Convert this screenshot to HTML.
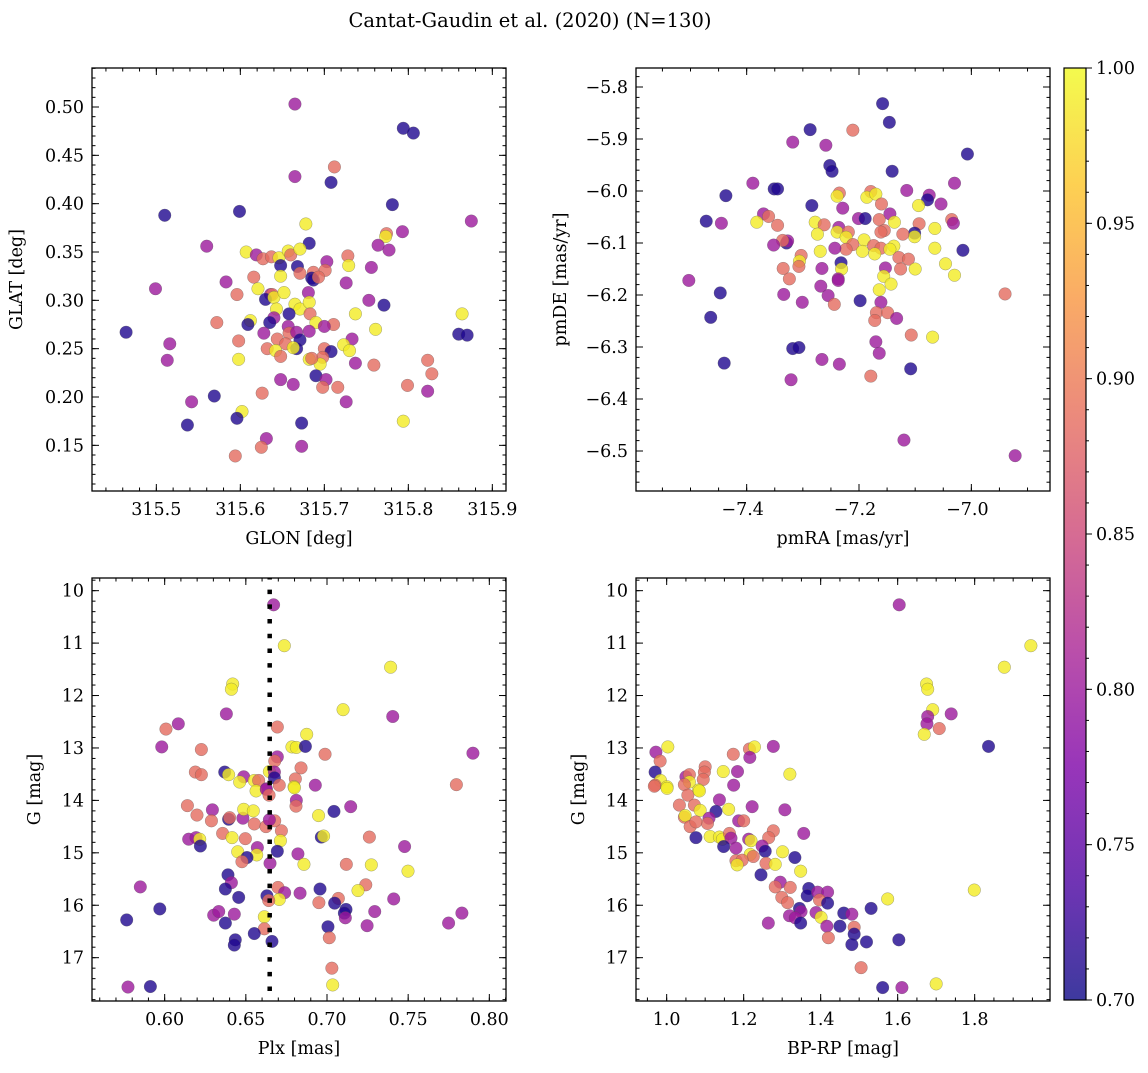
<!DOCTYPE html>
<html><head><meta charset="utf-8"><style>
html,body{margin:0;padding:0;background:#fff;}
svg text{font-family:"DejaVu Serif","Liberation Serif",serif;fill:#000;}
</style></head><body>
<svg id="fig" width="1148" height="1068" viewBox="0 0 1148 1068" xmlns="http://www.w3.org/2000/svg">
<text x="530" y="27" font-size="19.5" text-anchor="middle">Cantat-Gaudin et al. (2020) (N=130)</text>
</svg>
<script>
// ---------- Panel 1: GLON / GLAT ----------
const p1x=[315.665,315.794,315.806,315.712,315.665,315.708,315.781,315.510,315.599,315.875,315.678,315.793,315.774,315.773,315.764,315.777,315.560,315.682,315.607,315.619,315.627,315.637,315.646,315.657,315.660,315.671,315.648,315.668,315.671,315.687,315.703,315.701,315.728,315.729,315.756,315.685,315.499,315.583,315.616,315.648,315.687,315.693,315.726,315.596,315.621,315.636,315.638,315.630,315.640,315.652,315.681,315.665,315.671,315.682,315.658,315.643,315.640,315.683,315.771,315.753,315.737,315.864,315.572,315.612,315.609,315.635,315.690,315.711,315.700,315.464,315.860,315.870,315.516,315.513,315.598,315.598,315.628,315.657,315.658,315.667,315.682,315.671,315.644,315.654,315.667,315.663,315.632,315.642,315.648,315.700,315.708,315.698,315.682,315.695,315.685,315.733,315.723,315.730,315.737,315.759,315.761,315.823,315.828,315.799,315.823,315.690,315.702,315.698,315.716,315.648,315.663,315.726,315.626,315.569,315.542,315.537,315.602,315.596,315.673,315.794,315.631,315.625,315.673,315.594];
const p1y=[0.503,0.478,0.473,0.438,0.428,0.422,0.399,0.388,0.392,0.382,0.379,0.371,0.369,0.366,0.357,0.352,0.356,0.359,0.350,0.347,0.343,0.345,0.344,0.351,0.347,0.353,0.336,0.335,0.328,0.329,0.340,0.331,0.346,0.336,0.334,0.323,0.312,0.319,0.324,0.325,0.321,0.324,0.318,0.306,0.312,0.306,0.306,0.301,0.303,0.308,0.308,0.296,0.291,0.298,0.286,0.291,0.282,0.286,0.295,0.300,0.286,0.286,0.277,0.279,0.275,0.277,0.277,0.275,0.273,0.267,0.265,0.264,0.255,0.238,0.258,0.239,0.266,0.273,0.266,0.267,0.268,0.259,0.260,0.255,0.250,0.251,0.250,0.248,0.242,0.250,0.247,0.241,0.239,0.234,0.240,0.260,0.254,0.248,0.235,0.233,0.270,0.238,0.224,0.212,0.206,0.222,0.218,0.210,0.210,0.218,0.213,0.195,0.204,0.201,0.195,0.171,0.185,0.178,0.173,0.175,0.157,0.148,0.149,0.139];
const p1c=[0.80,0.71,0.71,0.885,0.80,0.71,0.71,0.71,0.71,0.80,0.99,0.80,0.885,0.99,0.80,0.80,0.80,0.71,0.99,0.80,0.885,0.885,0.99,0.99,0.885,0.99,0.71,0.71,0.885,0.885,0.80,0.885,0.885,0.99,0.80,0.71,0.80,0.80,0.885,0.99,0.71,0.885,0.80,0.885,0.99,0.80,0.885,0.71,0.99,0.99,0.80,0.99,0.99,0.99,0.71,0.99,0.80,0.885,0.71,0.80,0.99,0.99,0.885,0.99,0.71,0.71,0.99,0.885,0.80,0.71,0.71,0.71,0.80,0.80,0.885,0.99,0.80,0.80,0.885,0.80,0.80,0.71,0.885,0.885,0.71,0.99,0.885,0.99,0.885,0.885,0.71,0.885,0.99,0.99,0.885,0.80,0.99,0.99,0.80,0.885,0.99,0.885,0.885,0.885,0.80,0.71,0.80,0.885,0.885,0.80,0.80,0.80,0.885,0.71,0.80,0.71,0.99,0.71,0.71,0.99,0.80,0.885,0.80,0.885];
const p1xt=[315.5,315.6,315.7,315.8,315.9];
const p1yt=[0.15,0.20,0.25,0.30,0.35,0.40,0.45,0.50];

// ---------- Panel 2: pmRA / pmDE ----------
const p2x=[-7.158,-7.146,-7.211,-7.287,-7.318,-7.259,-7.007,-7.252,-7.248,-7.141,-7.389,-7.351,-7.345,-7.437,-7.030,-7.115,-7.235,-7.239,-7.179,-7.186,-7.170,-7.160,-7.075,-7.078,-7.054,-7.094,-7.284,-7.229,-7.370,-7.361,-7.472,-7.445,-7.382,-7.345,-7.201,-7.189,-7.145,-7.164,-7.137,-7.278,-7.262,-7.274,-7.093,-7.035,-7.032,-7.065,-7.155,-7.161,-7.236,-7.239,-7.219,-7.223,-7.101,-7.101,-7.122,-7.329,-7.327,-7.336,-7.352,-7.191,-7.211,-7.223,-7.243,-7.194,-7.174,-7.161,-7.172,-7.138,-7.145,-7.065,-7.015,-7.269,-7.303,-7.306,-7.307,-7.335,-7.324,-7.503,-7.232,-7.231,-7.266,-7.237,-7.129,-7.112,-7.126,-7.100,-7.153,-7.156,-7.046,-7.030,-7.268,-7.237,-7.447,-7.334,-7.255,-7.301,-7.244,-7.198,-7.143,-7.164,-7.161,-7.169,-7.149,-7.172,-7.133,-7.464,-7.107,-7.069,-7.170,-7.164,-7.318,-7.307,-7.440,-7.266,-7.235,-7.179,-7.108,-7.321,-6.940,-7.120,-6.922];
const p2y=[-5.832,-5.868,-5.883,-5.882,-5.906,-5.912,-5.929,-5.951,-5.962,-5.962,-5.985,-5.996,-5.996,-6.009,-5.985,-5.999,-6.004,-6.010,-6.001,-6.012,-6.006,-6.025,-6.008,-6.017,-6.025,-6.028,-6.028,-6.033,-6.044,-6.049,-6.058,-6.062,-6.060,-6.066,-6.053,-6.053,-6.044,-6.055,-6.060,-6.060,-6.065,-6.083,-6.063,-6.055,-6.062,-6.072,-6.076,-6.079,-6.070,-6.079,-6.079,-6.089,-6.081,-6.088,-6.083,-6.100,-6.096,-6.095,-6.104,-6.094,-6.103,-6.112,-6.110,-6.116,-6.105,-6.110,-6.121,-6.106,-6.112,-6.110,-6.114,-6.116,-6.124,-6.135,-6.145,-6.149,-6.169,-6.172,-6.138,-6.150,-6.149,-6.169,-6.128,-6.131,-6.150,-6.150,-6.148,-6.164,-6.140,-6.162,-6.183,-6.172,-6.196,-6.199,-6.201,-6.214,-6.218,-6.211,-6.179,-6.190,-6.214,-6.234,-6.234,-6.249,-6.245,-6.243,-6.277,-6.281,-6.290,-6.312,-6.303,-6.301,-6.331,-6.324,-6.333,-6.356,-6.342,-6.363,-6.198,-6.479,-6.509];
const p2c=[0.71,0.71,0.885,0.71,0.80,0.80,0.71,0.71,0.71,0.71,0.80,0.71,0.71,0.71,0.80,0.80,0.885,0.99,0.885,0.99,0.99,0.885,0.80,0.71,0.80,0.99,0.71,0.80,0.80,0.885,0.71,0.80,0.99,0.885,0.80,0.71,0.80,0.885,0.99,0.99,0.885,0.99,0.885,0.885,0.80,0.99,0.885,0.885,0.80,0.99,0.885,0.99,0.71,0.99,0.885,0.71,0.80,0.885,0.80,0.99,0.885,0.885,0.80,0.99,0.885,0.885,0.99,0.99,0.99,0.99,0.71,0.99,0.885,0.99,0.885,0.885,0.885,0.80,0.71,0.99,0.80,0.80,0.885,0.885,0.885,0.99,0.80,0.99,0.99,0.99,0.80,0.80,0.71,0.80,0.80,0.80,0.885,0.71,0.99,0.99,0.80,0.885,0.885,0.885,0.80,0.71,0.885,0.99,0.80,0.80,0.71,0.71,0.71,0.80,0.80,0.885,0.71,0.80,0.885,0.80,0.80];
const p2xt=[-7.4,-7.2,-7.0];
const p2yt=[-5.8,-5.9,-6.0,-6.1,-6.2,-6.3,-6.4,-6.5];

// ---------- Panel 3: Plx / G ----------
const p3x=[0.6671,0.6737,0.7392,0.6419,0.6411,0.7099,0.6380,0.7405,0.6084,0.6008,0.6694,0.6875,0.6784,0.6811,0.6867,0.5982,0.6226,0.6988,0.7899,0.6694,0.6678,0.6840,0.6189,0.6226,0.6370,0.6394,0.6487,0.6462,0.6552,0.6579,0.6645,0.6676,0.6676,0.6805,0.6706,0.6797,0.6928,0.6626,0.7797,0.6563,0.6626,0.6643,0.6799,0.6140,0.6294,0.6199,0.6288,0.6394,0.6400,0.6482,0.6487,0.6546,0.6552,0.6624,0.6678,0.6645,0.6811,0.6809,0.6948,0.7043,0.7146,0.6719,0.6713,0.6357,0.6148,0.6193,0.6216,0.6220,0.6415,0.6497,0.6571,0.6450,0.6567,0.6507,0.6476,0.6694,0.6821,0.6965,0.6979,0.7261,0.7478,0.6858,0.6649,0.7119,0.7273,0.7499,0.6390,0.6411,0.6374,0.5850,0.6456,0.6630,0.6698,0.6739,0.6706,0.6641,0.6834,0.6957,0.7239,0.7191,0.6950,0.7070,0.7047,0.7117,0.7107,0.7113,0.7411,0.7294,0.7247,0.5970,0.5766,0.6302,0.6333,0.6429,0.6374,0.6614,0.6614,0.6552,0.6435,0.6429,0.6661,0.7006,0.7014,0.7749,0.7831,0.7030,0.7035,0.5774,0.5912];
const p3y=[10.27,11.05,11.46,11.78,11.88,12.27,12.35,12.40,12.54,12.64,12.60,12.74,12.98,12.99,12.97,12.98,13.03,13.12,13.10,13.17,13.25,13.38,13.46,13.51,13.46,13.51,13.55,13.65,13.62,13.62,13.45,13.46,13.57,13.59,13.71,13.74,13.71,13.78,13.70,13.82,13.79,13.90,13.76,14.10,14.18,14.28,14.39,14.36,14.33,14.34,14.17,14.20,14.45,14.50,14.39,14.37,14.00,14.11,14.29,14.21,14.12,14.58,14.77,14.63,14.74,14.71,14.74,14.87,14.71,14.73,14.90,14.98,15.04,15.09,15.17,14.97,15.02,14.70,14.68,14.70,14.88,15.22,15.20,15.22,15.23,15.35,15.42,15.57,15.69,15.65,15.85,15.82,15.66,15.76,15.89,15.91,15.77,15.69,15.61,15.72,15.95,15.87,15.96,16.08,16.15,16.24,15.88,16.12,16.39,16.07,16.28,16.19,16.12,16.17,16.34,16.22,16.45,16.54,16.66,16.76,16.69,16.41,16.62,16.34,16.15,17.20,17.52,17.56,17.55];
const p3c=[0.80,0.99,0.99,0.99,0.99,0.99,0.80,0.80,0.80,0.885,0.885,0.99,0.99,0.99,0.71,0.80,0.885,0.885,0.80,0.80,0.885,0.885,0.885,0.885,0.71,0.99,0.80,0.99,0.99,0.885,0.99,0.80,0.71,0.885,0.885,0.99,0.80,0.80,0.885,0.99,0.80,0.885,0.99,0.885,0.80,0.885,0.885,0.71,0.885,0.80,0.99,0.99,0.885,0.885,0.885,0.80,0.80,0.885,0.99,0.71,0.80,0.885,0.99,0.885,0.80,0.80,0.99,0.71,0.99,0.885,0.80,0.99,0.99,0.71,0.885,0.71,0.80,0.71,0.99,0.885,0.80,0.99,0.80,0.885,0.99,0.99,0.71,0.80,0.71,0.80,0.71,0.71,0.885,0.80,0.99,0.885,0.80,0.71,0.885,0.99,0.885,0.885,0.71,0.71,0.71,0.80,0.80,0.80,0.80,0.71,0.71,0.80,0.80,0.80,0.71,0.99,0.885,0.71,0.71,0.71,0.71,0.71,0.885,0.80,0.80,0.885,0.99,0.80,0.71];
const p3xt=[0.60,0.65,0.70,0.75,0.80];
const gTicks=[10,11,12,13,14,15,16,17];
const plxRef=[0.6647];

// ---------- Panel 4: BP-RP / G ----------
const p4x=[1.604,1.946,1.877,1.675,1.678,1.691,1.739,1.678,1.676,1.708,1.669,1.836,1.003,0.972,0.983,0.970,0.984,0.970,1.001,1.173,1.215,1.228,1.216,1.277,1.147,1.184,1.320,1.100,1.098,1.095,1.050,1.059,1.059,1.046,1.083,1.174,0.968,1.001,1.055,1.085,1.033,1.072,1.137,1.161,1.222,1.307,1.128,1.087,1.046,1.048,1.110,1.106,1.061,1.076,1.187,1.200,1.277,1.356,1.265,1.076,1.113,1.137,1.145,1.163,1.167,1.213,1.219,1.148,1.180,1.248,1.256,1.301,1.217,1.225,1.180,1.196,1.183,1.258,1.282,1.333,1.348,1.245,1.295,1.282,1.321,1.369,1.365,1.392,1.418,1.397,1.418,1.299,1.314,1.345,1.349,1.388,1.401,1.319,1.334,1.348,1.264,1.460,1.481,1.531,1.574,1.799,1.450,1.416,1.487,1.487,1.420,1.481,1.519,1.603,1.505,1.561,1.611,1.700];
const p4y=[10.27,11.05,11.46,11.78,11.88,12.27,12.35,12.40,12.54,12.63,12.74,12.97,12.98,13.08,13.25,13.46,13.62,13.71,13.74,13.12,13.02,12.98,13.18,12.97,13.45,13.45,13.50,13.36,13.46,13.60,13.55,13.51,13.65,13.70,13.80,13.71,13.73,13.77,13.90,13.82,14.09,14.09,13.99,14.17,14.12,14.18,14.21,14.19,14.32,14.29,14.34,14.44,14.50,14.41,14.39,14.39,14.58,14.63,14.71,14.71,14.69,14.70,14.74,14.63,14.72,14.74,14.77,14.88,14.91,14.87,14.97,14.98,15.03,15.07,15.15,15.14,15.23,15.20,15.22,15.09,15.35,15.42,15.56,15.65,15.66,15.68,15.82,15.75,15.75,15.90,15.96,15.85,15.95,16.06,16.12,16.14,16.23,16.20,16.24,16.34,16.34,16.15,16.17,16.06,15.88,15.71,16.40,16.40,16.42,16.55,16.62,16.75,16.70,16.66,17.19,17.57,17.57,17.50];
const p4c=[0.80,0.99,0.99,0.99,0.99,0.99,0.80,0.80,0.80,0.885,0.99,0.71,0.99,0.80,0.885,0.71,0.99,0.885,0.99,0.885,0.885,0.99,0.80,0.80,0.99,0.80,0.99,0.885,0.885,0.885,0.80,0.885,0.99,0.885,0.99,0.80,0.885,0.99,0.885,0.99,0.885,0.885,0.80,0.99,0.80,0.80,0.71,0.99,0.885,0.99,0.80,0.885,0.885,0.885,0.80,0.885,0.885,0.80,0.885,0.71,0.99,0.99,0.99,0.885,0.80,0.80,0.99,0.71,0.80,0.80,0.71,0.99,0.99,0.885,0.885,0.885,0.99,0.885,0.99,0.71,0.99,0.71,0.80,0.885,0.885,0.71,0.71,0.80,0.80,0.885,0.71,0.885,0.885,0.71,0.80,0.80,0.99,0.80,0.80,0.71,0.80,0.71,0.80,0.71,0.99,0.99,0.71,0.80,0.885,0.71,0.885,0.71,0.71,0.71,0.885,0.71,0.80,0.99];
const p4xt=[1.0,1.2,1.4,1.6,1.8];

// ---------- Colorbar ----------
const cbTicks=[0.70,0.75,0.80,0.85,0.90,0.95,1.00];
const cMin=0.70, cMax=1.00;

const NS='http://www.w3.org/2000/svg';
const svg=document.getElementById('fig');
function mk(tag,attrs,parent){const e=document.createElementNS(NS,tag);for(const k in attrs)e.setAttribute(k,attrs[k]);(parent||svg).appendChild(e);return e;}
const stops=[[0,'#0d0887'],[0.125,'#4c02a1'],[0.25,'#7e03a8'],[0.375,'#a92395'],[0.5,'#cc4778'],[0.625,'#e66c5c'],[0.75,'#f89540'],[0.875,'#fdc527'],[1,'#f0f921']];
function hx(h){return [parseInt(h.slice(1,3),16),parseInt(h.slice(3,5),16),parseInt(h.slice(5,7),16)];}
function plasma(t){t=Math.max(0,Math.min(1,t));for(let i=1;i<stops.length;i++){if(t<=stops[i][0]){const a=stops[i-1],b=stops[i];const f=(t-a[0])/(b[0]-a[0]);const A=hx(a[1]),B=hx(b[1]);return 'rgb('+A.map((v,j)=>Math.round(v+(B[j]-v)*f)).join(',')+')';}}return stops[stops.length-1][1];}
function cnorm(v){return (v-cMin)/(cMax-cMin);}
function fmt(v,d){const s=Math.abs(v).toFixed(d);return (v<0?'\u2212':'')+s;}

function panel(o){
  const g=mk('g',{});
  
  
  const sx=v=>o.x0+(v-o.xmin)/(o.xmax-o.xmin)*o.w;
  const sy=o.invY?(v=>o.y0+(v-o.ymin)/(o.ymax-o.ymin)*o.h):(v=>o.y0+o.h-(v-o.ymin)/(o.ymax-o.ymin)*o.h);
  const cl='clip'+o.name;
  const cp=mk('clipPath',{id:cl},g);mk('rect',{x:o.x0,y:o.y0,width:o.w,height:o.h},cp);
  const pg=mk('g',{'clip-path':'url(#'+cl+')'},g);
  
  
  for(let i=0;i<o.xs.length;i++){
    const c=mk('circle',{cx:sx(o.xs[i]).toFixed(2),cy:sy(o.ys[i]).toFixed(2),r:6.3,fill:plasma(cnorm(o.cs[i])),'fill-opacity':0.8,stroke:'#555','stroke-width':0.45,'stroke-opacity':0.6},pg);
    
    
  }
  if(o.extra) o.extra(pg,sx,sy);
  // ticks
  const tg=mk('g',{stroke:'#000','stroke-width':1},g);
  const X1=o.x0,X2=o.x0+o.w,Y1=o.y0,Y2=o.y0+o.h;
  function minor(lo,hi,step){const r=[];const s=Math.ceil(Math.min(lo,hi)/step-1e-6);const e=Math.floor(Math.max(lo,hi)/step+1e-6);for(let k=s;k<=e;k++)r.push(k*step);return r;}
  minor(o.xmin,o.xmax,o.xminor).forEach(v=>{const x=sx(v);mk('line',{x1:x,y1:Y2,x2:x,y2:Y2-3.5},tg);mk('line',{x1:x,y1:Y1,x2:x,y2:Y1+3.5},tg);});
  minor(o.ymin,o.ymax,o.yminor).forEach(v=>{const y=sy(v);mk('line',{x1:X1,y1:y,x2:X1+3.5,y2:y},tg);mk('line',{x1:X2,y1:y,x2:X2-3.5,y2:y},tg);});
  o.xt.forEach(v=>{const x=sx(v);mk('line',{x1:x,y1:Y2,x2:x,y2:Y2-7},tg);mk('line',{x1:x,y1:Y1,x2:x,y2:Y1+7},tg);
    const t=mk('text',{x:x+(v<0?-4:0),y:Y2+24,'font-size':17.5,'text-anchor':'middle'},g);t.textContent=fmt(v,o.xd);
    
    });
  o.yt.forEach(v=>{const y=sy(v);mk('line',{x1:X1,y1:y,x2:X1+7,y2:y},tg);mk('line',{x1:X2,y1:y,x2:X2-7,y2:y},tg);
    const t=mk('text',{x:X1-8,y:y+6,'font-size':17.5,'text-anchor':'end'},g);t.textContent=fmt(v,o.yd);
    
    });
  const fr=mk('rect',{x:X1,y:Y1,width:o.w,height:o.h,fill:'none',stroke:'#000','stroke-width':1.3},g);
  
  
  const xl=mk('text',{x:X1+o.w/2,y:Y2+53,'font-size':17.5,'text-anchor':'middle'},g);xl.textContent=o.xlabel;
  
  
  const yl=mk('text',{x:o.ylx,y:Y1+o.h/2,'font-size':17.5,'text-anchor':'middle',transform:'rotate(-90 '+o.ylx+' '+(Y1+o.h/2)+')'},g);yl.textContent=o.ylabel;
  
  
}

panel({name:'glon-glat-panel',x0:92,y0:68,w:414,h:423,xmin:315.5-64.33/840,xmax:315.5+349.67/840,ymin:0.5-384/966.7,ymax:0.5+39/966.7,
  xs:p1x,ys:p1y,cs:p1c,xt:p1xt,yt:p1yt,xminor:0.02,yminor:0.01,xd:1,yd:2,xlabel:'GLON [deg]',ylabel:'GLAT [deg]',ylx:22});
panel({name:'pm-panel',x0:636,y0:68,w:414,h:423,xmin:-7.4-110.67/561.7,xmax:-7.4+303.33/561.7,ymin:-5.9-352/520,ymax:-5.9+71/520,
  xs:p2x,ys:p2y,cs:p2c,xt:p2xt,yt:p2yt,xminor:0.05,yminor:0.02,xd:1,yd:1,xlabel:'pmRA [mas/yr]',ylabel:'pmDE [mas/yr]',ylx:566});
panel({name:'plx-g-panel',x0:92,y0:578,w:414,h:423,xmin:0.60-72.67/1623.3,xmax:0.60+341.33/1623.3,ymin:10-12.67/52.43,ymax:10+410.33/52.43,invY:true,
  xs:p3x,ys:p3y,cs:p3c,xt:p3xt,yt:gTicks,xminor:0.01,yminor:0.2,xd:2,yd:0,xlabel:'Plx [mas]',ylabel:'G [mag]',ylx:40,
  extra:(pg,sx,sy)=>{plxRef.forEach(v=>{const l=mk('line',{x1:sx(v),y1:sy(9.7),x2:sx(v),y2:sy(17.9),stroke:'#000','stroke-width':4.5,'stroke-dasharray':'4.5 10.2'},pg);
    
    });}});
panel({name:'cmd-panel',x0:636,y0:578,w:414,h:423,xmin:1.0-30.67/385,xmax:1.0+383.33/385,ymin:10-12.67/52.43,ymax:10+410.33/52.43,invY:true,
  xs:p4x,ys:p4y,cs:p4c,xt:p4xt,yt:gTicks,xminor:0.05,yminor:0.2,xd:1,yd:0,xlabel:'BP-RP [mag]',ylabel:'G [mag]',ylx:584});

// colorbar
(function(){
  const x0=1064,w=22,y0=68,h=932;
  const g=mk('g',{});
  
  
  const defs=mk('defs',{},g);
  const lg=mk('linearGradient',{id:'cbgrad',x1:0,y1:1,x2:0,y2:0},defs);
  for(let i=0;i<=40;i++){const t=i/40;mk('stop',{offset:t,'stop-color':plasma(t)},lg);}
  mk('rect',{x:x0,y:y0,width:w,height:h,fill:'url(#cbgrad)','fill-opacity':0.8},g);
  const sy=v=>y0+h-(v-cMin)/(cMax-cMin)*h;
  for(let k=70;k<=100;k++){const y=sy(k/100);mk('line',{x1:x0+w,y1:y,x2:x0+w+3,y2:y,stroke:'#000','stroke-width':1},g);}
  cbTicks.forEach(v=>{const y=sy(v);mk('line',{x1:x0+w,y1:y,x2:x0+w+6,y2:y,stroke:'#000','stroke-width':1},g);
    const t=mk('text',{x:x0+w+10,y:y+6,'font-size':17.5},g);t.textContent=v.toFixed(2);
    
    });
  mk('rect',{x:x0,y:y0,width:w,height:h,fill:'none',stroke:'#000','stroke-width':1.2},g);
})();
</script>
</body></html>
